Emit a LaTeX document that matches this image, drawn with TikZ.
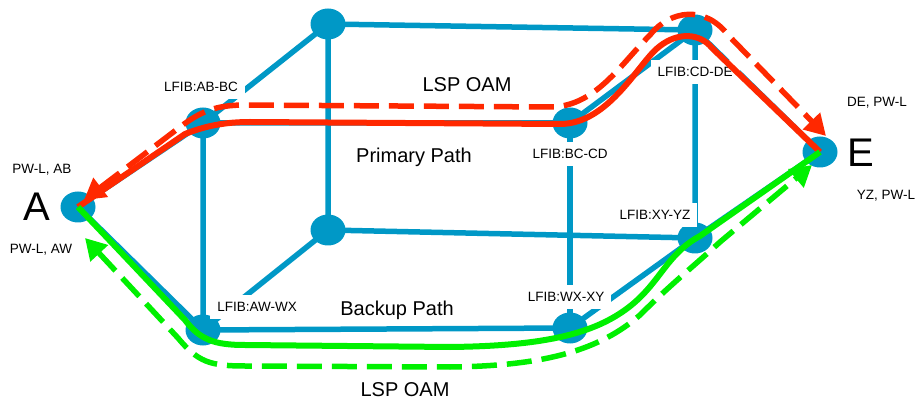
\documentclass[tikz,border=0pt]{standalone}
\usepackage{fontspec}
\setmainfont{Liberation Sans}
\usepackage{tikz}
\usetikzlibrary{
    arrows.meta,
    backgrounds,
    shapes.geometric
}

\definecolor{netblue}{RGB}{0,152,198}
\definecolor{oamred}{RGB}{255,40,0}
\definecolor{oamgreen}{RGB}{0,240,0}

\begin{document}
\begin{tikzpicture}[x=1pt, y=-1pt,
    router/.style={ellipse, fill=netblue, minimum width=35pt, minimum height=31pt, inner sep=0pt},
    link/.style={netblue, line width=5.5pt},
    lfib/.style={fill=white, inner sep=7pt, font=\fontsize{13.5}{16}\selectfont},
    pwlabel/.style={inner sep=0pt, font=\fontsize{13.5}{16}\selectfont},
    big/.style={inner sep=0pt, font=\fontsize{20}{24}\selectfont},
    endname/.style={inner sep=0pt, font=\fontsize{40}{44}\selectfont},
    pathline/.style={line width=6pt, line join=round},
    oam/.style={line width=5.5pt, dash pattern=on 25pt off 10pt,
        {Triangle[length=21pt,width=23pt]}-{Triangle[length=21pt,width=23pt]}}]
    \useasboundingbox (0,0) rectangle (918,403);

    % Routers
    \node[router] (A) at (78,207) {};
    \node[router] (E) at (820,152) {};
    \node[router] (ABBC) at (203,123) {};
    \node[router] (BCCD) at (570,123) {};
    \node[router] (CDDE) at (695,30) {};
    \node[router] (TL) at (328,24) {};
    \node[router] (AWWX) at (203,330) {};
    \node[router] (WXXY) at (570,328) {};
    \node[router] (XYYZ) at (695,238) {};
    \node[router] (BL) at (328,230) {};

    % Links
    \begin{scope}[on background layer]
    \draw[link] (A.center) -- (ABBC.center) -- (BCCD.center) -- (CDDE.center) -- (E.center);
    \draw[link] (A.center) -- (AWWX.center) -- (WXXY.center) -- (XYYZ.center) -- (E.center);
    \draw[link] (ABBC.center) -- (TL.center) -- (CDDE.center) -- (XYYZ.center) -- (BL.center) -- (TL.center);
    \draw[link] (ABBC.center) -- (AWWX.center) -- (BL.center);
    \draw[link] (BCCD.center) -- (WXXY.center);
    \end{scope}

    % Labels
    \node[lfib] (lABBC) at (201,87) {LFIB:AB-BC};
    \node[lfib] (lBCCD) at (570,154) {LFIB:BC-CD};
    \node[lfib] (lCDDE) at (695,72) {LFIB:CD-DE};
    \node[lfib] (lAWWX) at (257,307) {LFIB:AW-WX};
    \node[lfib] (lWXXY) at (566,297) {LFIB:WX-XY};
    \node[lfib] (lXYYZ) at (655,215) {LFIB:XY-YZ};
    \node[pwlabel] (pwAB) at (42,170) {PW-L, AB};
    \node[pwlabel] (pwAW) at (41,250) {PW-L, AW};
    \node[pwlabel] (pwDE) at (877,103) {DE, PW-L};
    \node[pwlabel] (pwYZ) at (886,196) {YZ, PW-L};
    \node[endname] (nameA) at (37,207) {A};
    \node[endname] (nameE) at (861,153) {E};
    \node[big] (oamTop) at (467,85) {LSP OAM};
    \node[big] (oamBot) at (405,390) {LSP OAM};
    \node[big] (prim) at (414,157) {Primary Path};
    \node[big] (back) at (397,310) {Backup Path};

    % Primary path and its OAM
    \coordinate (redA) at (84,200);
    \coordinate (redE) at (826,136);
    \draw[oam, oamred] (redA) -- (180,127) .. controls (200,112) and (215,105) .. (245,105)
        -- (550,107) .. controls (595,107) and (620,65) .. (650,35)
        .. controls (670,10) and (705,5) .. (728,35) -- (redE);
    \draw[pathline, oamred] (E.center) -- (712,48) .. controls (700,33) and (678,32) .. (660,46)
        .. controls (640,60) and (610,124) .. (560,124) -- (250,122)
        .. controls (225,122) and (205,126) .. (185,134) -- (A.center);

    % Backup path and its OAM
    \coordinate (greenA) at (85,238);
    \coordinate (greenE) at (812,165);
    \draw[oam, oamgreen] (greenA) -- (178,338) .. controls (198,362) and (210,366) .. (245,366)
        -- (450,367) .. controls (545,366) and (600,350) .. (640,315)
        .. controls (670,285) and (695,265) .. (720,242) -- (greenE);
    \draw[pathline, oamgreen] (A.center) -- (185,320) .. controls (200,340) and (215,345) .. (245,345)
        -- (450,347) .. controls (540,346) and (590,335) .. (625,310)
        .. controls (660,285) and (665,255) .. (700,236) -- (E.center);
\end{tikzpicture}
\end{document}
